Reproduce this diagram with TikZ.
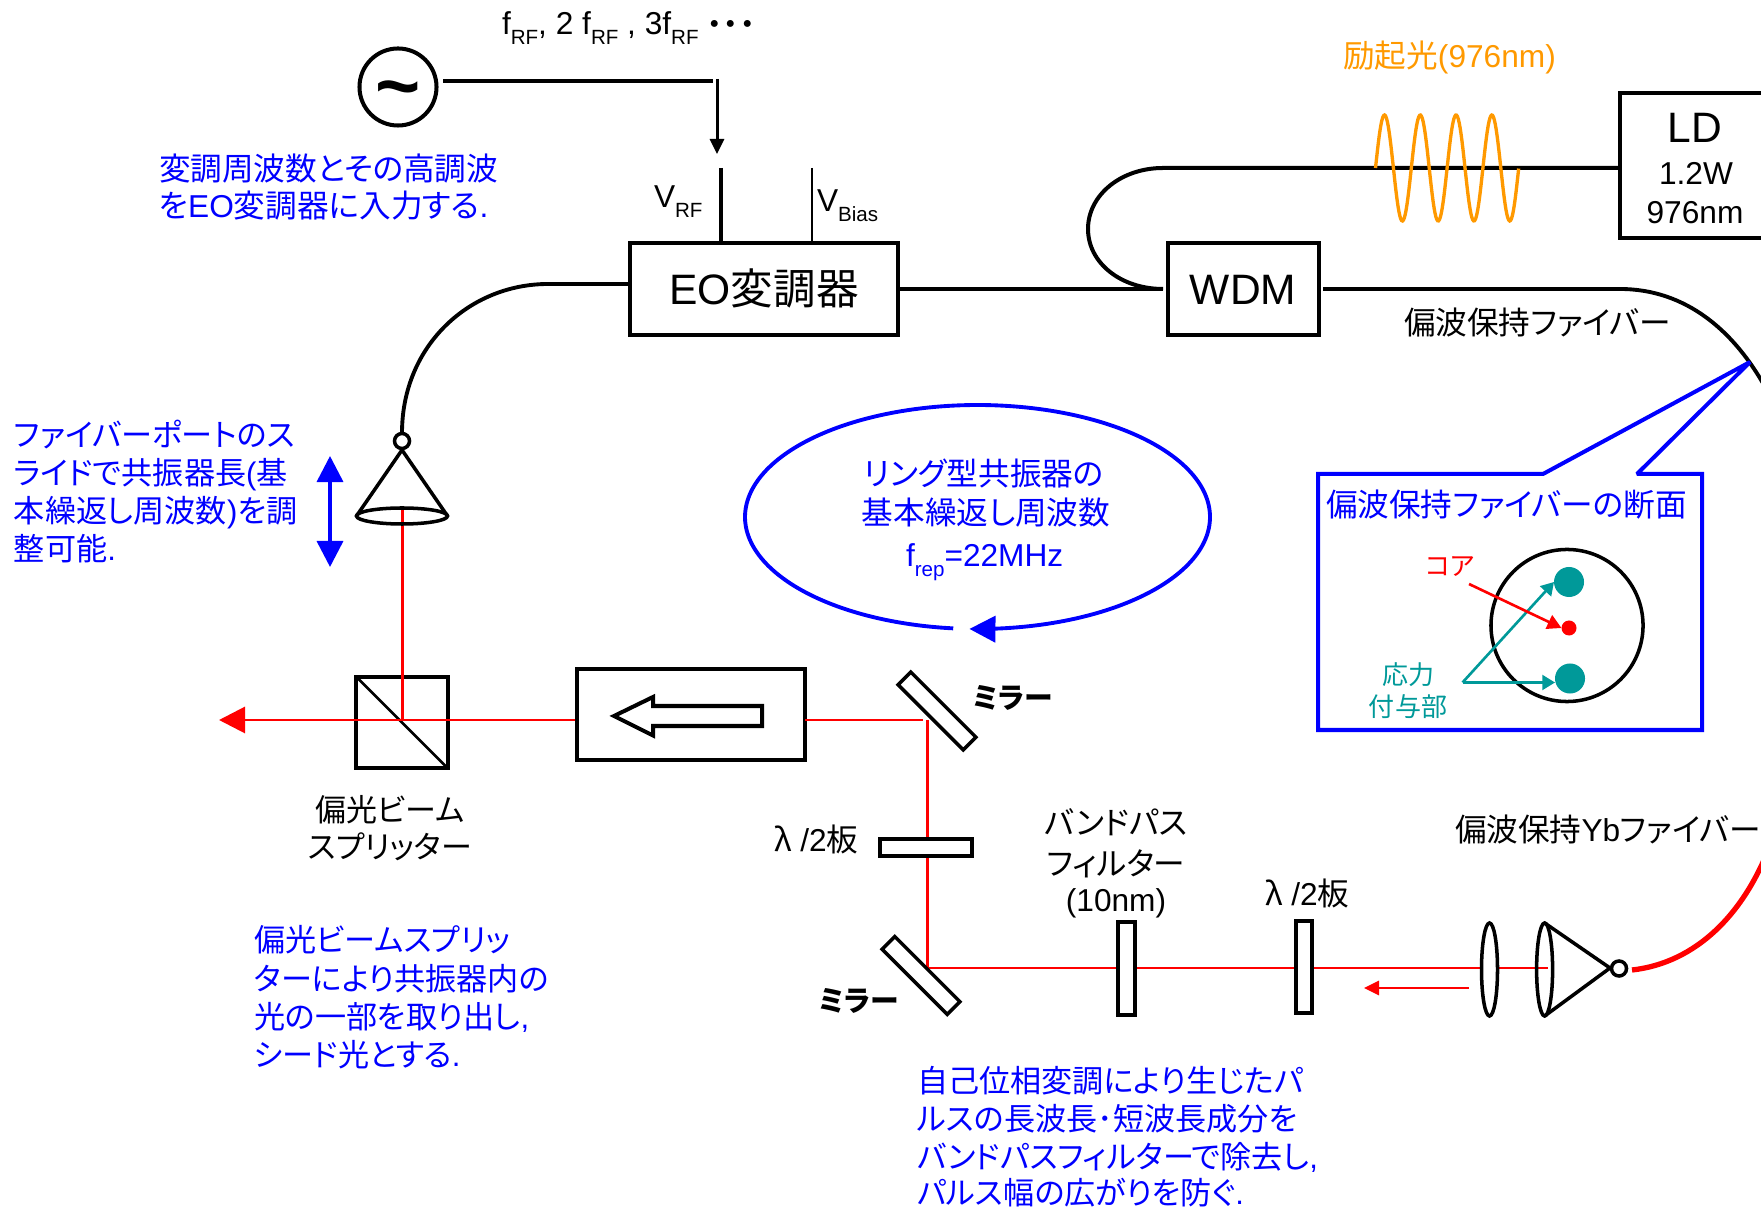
\documentclass[tikz,border=0pt]{standalone}
\usepackage{fontspec}
\usetikzlibrary{arrows.meta,shapes.geometric}
\setmainfont{Liberation Sans}
\newfontfamily\cjk[RawFeature={+palt}]{Noto Sans CJK JP}
\newcommand\J[1]{{\cjk #1}}
\newcommand\sbs[1]{\raisebox{-0.29em}{\fontsize{5.85}{6}\selectfont #1}}
\definecolor{blu}{HTML}{0000FF}
\definecolor{redd}{HTML}{FF0000}
\definecolor{org}{HTML}{FF9900}
\definecolor{tl}{HTML}{009999}
\tikzset{
  x=0.01cm,y=-0.01cm,
  every node/.style={inner sep=0pt,outer sep=0pt},
  t31/.style={font=\fontsize{9}{10}\selectfont,anchor=base west},
  c31/.style={font=\fontsize{9}{10}\selectfont,anchor=base},
  c41/.style={font=\fontsize{12.1}{13}\selectfont,anchor=base},
  tb/.style={t31,text=blu},
  tk/.style={font=\fontsize{8.85}{10}\selectfont,anchor=base west,text=blu},
  cb/.style={c31,text=blu},
  c26/.style={font=\fontsize{7.4}{9}\selectfont,anchor=base},
  mir/.style={font=\fontsize{8.2}{9}\selectfont\bfseries,anchor=base west},
  wire/.style={draw=black,line width=1.14pt},
  fib/.style={draw=black,line width=1.1pt},
  beam/.style={draw=redd,line width=0.85pt},
  hbeam/.style={draw=redd,line width=0.85pt},
  box/.style={draw=black,line width=1.14pt,fill=white,rectangle},
  plate/.style={draw=black,line width=1.14pt,fill=white,rectangle},
}
\begin{document}
\begin{tikzpicture}
\useasboundingbox (0,0) rectangle (1761,1207);

% coordinates of connector ends
\coordinate (srcOut) at (443,81);
\coordinate (bend) at (713,81);
\coordinate (rfTop) at (717,79);
\coordinate (rfTip) at (717,154);
\coordinate (eoL) at (630,284);
\coordinate (fibA) at (548,284);
\coordinate (port1) at (402,433);
\coordinate (fiberB) at (1163,289);
\coordinate (topB) at (1163,168);
\coordinate (ldL) at (1620,168);
\coordinate (wdmR) at (1323,289);
\coordinate (fibC) at (1620,289);
\coordinate (fibD) at (1772,400);
\coordinate (beamTop) at (402,506);
\coordinate (pbsC) at (402,720);
\coordinate (outTip) at (219,720);
\coordinate (isoL) at (577,720);
\coordinate (isoR) at (805,720);
\coordinate (m1a) at (923,720);
\coordinate (m1b) at (927,720);
\coordinate (m2a) at (927,968);
\coordinate (coneIn) at (1548,968);
\coordinate (port2) at (1632,970);
\coordinate (ybEnd) at (1772,840);

% source
\node[draw=black,line width=1.14pt,circle,minimum size=77*0.2845pt] (src) at (398,87) {};
\node[font=\fontsize{22}{24}\selectfont\bfseries,anchor=base] (tilde) at (398,113) {\textasciitilde};
\draw[wire] (srcOut) -- (bend);
\draw[wire,line width=0.85pt,-{Triangle[length=4.3pt,width=4pt]}] (rfTop) -- (rfTip);

% EO modulator
\node[box,minimum width=268*0.2845pt,minimum height=92*0.2845pt] (eo) at (764,289) {};
\node[box,minimum width=151*0.2845pt,minimum height=92*0.2845pt] (wdm) at (1243.5,289) {};
\node[box,minimum width=200*0.2845pt,minimum height=145*0.2845pt] (ld) at (1720,165.5) {};
\coordinate (vrfT) at (721,168);
\coordinate (vbT) at (812,168);
\draw[wire,line width=0.95pt] (vrfT) -- (vrfT |- eo.north);
\draw[wire,line width=0.8pt] (vbT) -- (vbT |- eo.north);
\node[t31] (vrf) at (654,208) {V\sbs{RF}};
\node[t31] (vbias) at (817,212) {V\sbs{Bias}};
\node[c41] (eoT) at (764,305) {EO\J{変調器}};
\node[c41] (wdmT) at (1243,305) {WDM};
\node[c41] (ldT) at (1695,143) {LD};
\node[c31] (ldP) at (1696,185) {1.2W};
\node[c31] (ldW) at (1695,224) {976nm};

% fibres
\draw[fib] (eoL) -- (fibA) .. controls (470,284) and (402,345) .. (port1);
\draw[wire] (eo.east |- fiberB) -- (fiberB);
\draw[fib,line width=1.14pt] (ldL) -- (topB) .. controls (1121,168) and (1088,195) .. (1088,229) .. controls (1088,263) and (1121,289) .. (fiberB);
\draw[fib] (wdmR) -- (fibC) .. controls (1685,289) and (1737,330) .. (fibD);
\draw[draw=redd,line width=1.5pt] (port2) .. controls (1695,963) and (1745,915) .. (ybEnd);

% pump wave
\draw[draw=org,line width=0.95pt] plot[domain=0:4,samples=160] ({1375.5+35.8*\x},{168-53*sin(360*\x)});
\node[t31,text=org] (pump) at (1343,68) {\J{励起光}(976nm)};

% beam path
\node[box,fill=none,minimum width=91*0.2845pt,minimum height=91*0.2845pt] (pbs) at (402,722.5) {};
\draw[draw=black,line width=0.8pt] (pbs.north west) -- (pbs.south east);
\draw[beam] (beamTop) -- (pbsC);
\draw[hbeam,-{Triangle[length=7.4pt,width=7.4pt]}] (isoL) -- (outTip);
\node[box,minimum width=228*0.2845pt,minimum height=91*0.2845pt] (iso) at (691,714.5) {};
\draw[draw=black,line width=1.14pt,fill=white] (614,716) coordinate (hTip) -- (653,697) coordinate (hA) -- (653,706) coordinate (hB) -- (762,706) coordinate (hC) -- (762,726) coordinate (hD) -- (653,726) coordinate (hE) -- (653,735.5) coordinate (hF) -- cycle;
\draw[hbeam] (isoR) -- (m1a);
\draw[beam] (m1b) -- (m2a);
\draw[hbeam] (m2a) -- (coneIn);

\node[plate,line width=1pt,rotate=-45,minimum width=92*0.2845pt,minimum height=18*0.2845pt] (m1) at (937,711) {};
\node[plate,line width=1pt,rotate=-45,minimum width=92*0.2845pt,minimum height=18*0.2845pt] (m2) at (921,975.5) {};
\node[plate,minimum width=92*0.2845pt,minimum height=17*0.2845pt] (hw1) at (926,847.5) {};
\node[plate,minimum width=17*0.2845pt,minimum height=92*0.2845pt] (bpf) at (1126,968.5) {};
\node[plate,minimum width=16.5*0.2845pt,minimum height=92*0.2845pt] (hw2) at (1304,967) {};
\node[draw=black,line width=1.0pt,fill=white,ellipse,minimum width=16*0.2845pt,minimum height=93*0.2845pt] (lens) at (1489.5,969.5) {};

% collimators
\node[draw=black,line width=1.0pt,ellipse,minimum width=16*0.2845pt,minimum height=93*0.2845pt] (cone2) at (1544.6,969.5) {};
\coordinate (apex2) at (1610,968);
\draw[draw=black,line width=1.0pt] (cone2.north) -- (apex2) -- (cone2.south);
\node[draw=black,line width=1.0pt,fill=white,circle,minimum size=15*0.2845pt] (p2) at (1619,968.5) {};
\node[draw=black,line width=1.0pt,ellipse,minimum width=91*0.2845pt,minimum height=16*0.2845pt] (cone1) at (402,516) {};
\coordinate (apex1) at (402,450);
\draw[draw=black,line width=1.0pt] (cone1.west) -- (apex1) -- (cone1.east);
\node[draw=black,line width=1.0pt,fill=white,circle,minimum size=15*0.2845pt] (p1) at (402,441) {};
\coordinate (slideT) at (330,456);
\coordinate (slideB) at (330,567);
\draw[draw=blu,line width=1pt,{Triangle[length=7.4pt,width=7.4pt]}-{Triangle[length=7.4pt,width=7.4pt]}] (slideT) -- (slideB);

% small direction arrow
\coordinate (dirA) at (1469,988);
\coordinate (dirB) at (1364,988);
\draw[hbeam,-{Triangle[length=4.3pt,width=4pt]}] (dirA) -- (dirB);

% resonator ellipse
\draw[draw=blu,line width=1.1pt,-{Triangle[length=7.4pt,width=7.4pt]}] plot[domain=264:-92,samples=240] ({977.5+232.5*cos(\x)},{517-112*sin(\x)});

% callout
\draw[draw=blu,line width=1.14pt,line join=miter,miter limit=2] (1318,474) coordinate (cA) -- (1543,474) coordinate (cB) -- (1750,362) coordinate (cTip) -- (1637,474) coordinate (cC) -- (1702,474) coordinate (cD) -- (1702,730) coordinate (cE) -- (1318,730) coordinate (cF) -- cycle;
\node[draw=black,line width=1pt,circle,minimum size=152*0.2845pt] (xs) at (1567,625.5) {};
\node[fill=tl,circle,minimum size=30*0.2845pt] (stressA) at (1569,582) {};
\node[fill=tl,circle,minimum size=30*0.2845pt] (stressB) at (1570,678.5) {};
\node[fill=redd,circle,minimum size=15*0.2845pt] (core) at (1569,628) {};
\coordinate (tlO) at (1462.5,682.5);
\coordinate (tlB) at (1555,682.5);
\coordinate (rdO) at (1469,584);
\draw[draw=tl,line width=0.75pt,-{Triangle[length=3.6pt,width=4.2pt]}] (tlO) -- (stressA.west);
\draw[draw=tl,line width=0.75pt,-{Triangle[length=3.6pt,width=4.2pt]}] (tlO) -- (tlB);
\draw[draw=redd,line width=0.75pt,-{Triangle[length=4pt,width=4.2pt]}] (rdO) -- (core.west);

% texts
\node[t31] (freq) at (502,35) {f\sbs{RF}, 2 f\sbs{RF} , 3f\sbs{RF}};
\node[font=\fontsize{9.4}{10}\selectfont\bfseries,anchor=base] (dots) at (731,37) {\J{･･･}};
\node[tb] (n1a) at (159,181) {\J{変調周波数とその高調波}};
\node[tb] (n1b) at (159,218) {\J{を}EO\J{変調器に入力する}.};
\node[tk] (n2a) at (14,447) {\J{ファイバーポートのス}};
\node[tk] (n2b) at (14,485) {\J{ライドで共振器長}(\J{基}};
\node[tk] (n2c) at (14,523) {\J{本繰返し周波数})\J{を調}};
\node[tk] (n2d) at (14,561) {\J{整可能}.};
\node[cb] (n3a) at (984,486) {\J{リング型共振器の}};
\node[cb] (n3b) at (986,525) {\J{基本繰返し周波数}};
\node[tb] (n3c) at (906,567) {f\sbs{rep}=22MHz};
\node[t31] (pmf) at (1404,335) {\J{偏波保持ファイバー}};
\node[tb] (cap) at (1326,517) {\J{偏波保持ファイバーの断面}};
\node[c26,text=redd] (coreT) at (1450,576) {\J{コア}};
\node[c26,text=tl] (stT1) at (1408,685) {\J{応力}};
\node[c26,text=tl] (stT2) at (1408,717) {\J{付与部}};
\node[mir] (mt1) at (973,709) {\J{ミラー}};
\node[mir] (mt2) at (819,1011) {\J{ミラー}};
\node[c31,font=\fontsize{8.82}{10}\selectfont] (pbsT1) at (390,821) {\J{偏光ビーム}};
\node[c31,font=\fontsize{8.82}{10}\selectfont] (pbsT2) at (390,858) {\J{スプリッター}};
\node[t31] (hwT1) at (774,851) {\J{λ} /2\J{板}};
\node[t31] (hwT2) at (1265,905) {\J{λ} /2\J{板}};
\node[c31] (bpT1) at (1116,834) {\J{バンドパス}};
\node[c31] (bpT2) at (1116,875) {\J{フィルター}};
\node[c31] (bpT3) at (1116,911) {(10nm)};
\node[t31] (ybT) at (1455,841) {\J{偏波保持}Yb\J{ファイバー}};
\node[tk] (n4a) at (254,951) {\J{偏光ビームスプリッ}};
\node[tk] (n4b) at (254,990) {\J{ターにより共振器内の}};
\node[tk] (n4c) at (254,1028) {\J{光の一部を取り出し},};
\node[tk] (n4d) at (254,1066) {\J{シード光とする}.};
\node[tk] (n5a) at (917,1092) {\J{自己位相変調により生じたパ}};
\node[tk] (n5b) at (917,1130) {\J{ルスの長波長･短波長成分を}};
\node[tk] (n5c) at (917,1168) {\J{バンドパスフィルターで除去し},};
\node[tk] (n5d) at (917,1204) {\J{パルス幅の広がりを防ぐ}.};
\end{tikzpicture}
\end{document}
